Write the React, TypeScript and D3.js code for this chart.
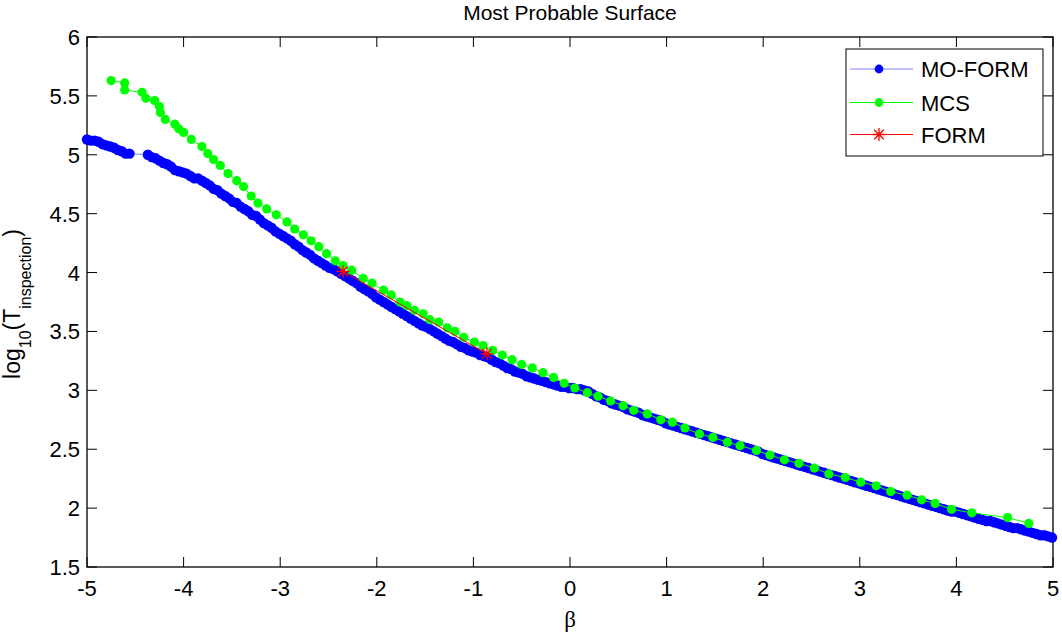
import * as d3 from "d3";
import { useRef, useEffect } from "react";

// MO-FORM points (beta, log10 T)
const moForm: [number, number][] = [
  [-5.0, 5.13], [-4.96, 5.12], [-4.92, 5.12], [-4.88, 5.11], [-4.84, 5.09], [-4.8, 5.08], [-4.76, 5.07],
  [-4.72, 5.06], [-4.68, 5.04], [-4.64, 5.03], [-4.6, 5.01], [-4.56, 5.01],
  [-4.37, 5.0], [-4.33, 4.98], [-4.29, 4.97], [-4.25, 4.95], [-4.21, 4.93], [-4.17, 4.92], [-4.13, 4.9],
  [-4.09, 4.87], [-4.05, 4.86], [-4.01, 4.85], [-3.97, 4.84], [-3.93, 4.82], [-3.89, 4.8], [-3.85, 4.8],
  [-3.81, 4.78], [-3.77, 4.76], [-3.73, 4.74], [-3.69, 4.71], [-3.65, 4.7], [-3.61, 4.67], [-3.57, 4.65],
  [-3.53, 4.63], [-3.49, 4.6], [-3.45, 4.59], [-3.41, 4.56], [-3.37, 4.54], [-3.33, 4.52], [-3.29, 4.49],
  [-3.25, 4.48], [-3.21, 4.45], [-3.17, 4.42], [-3.13, 4.4], [-3.09, 4.38], [-3.05, 4.35], [-3.01, 4.33],
  [-2.97, 4.31], [-2.93, 4.29], [-2.89, 4.27], [-2.85, 4.24], [-2.81, 4.22], [-2.77, 4.19], [-2.73, 4.17],
  [-2.69, 4.15], [-2.65, 4.12], [-2.61, 4.1], [-2.57, 4.08], [-2.53, 4.06], [-2.49, 4.04], [-2.45, 4.03],
  [-2.41, 4.01], [-2.37, 3.99], [-2.33, 3.97], [-2.29, 3.95], [-2.25, 3.93], [-2.21, 3.91], [-2.17, 3.88],
  [-2.13, 3.86], [-2.09, 3.84], [-2.05, 3.82], [-2.01, 3.79], [-1.97, 3.77], [-1.93, 3.75], [-1.89, 3.73],
  [-1.85, 3.71], [-1.81, 3.69], [-1.77, 3.67], [-1.73, 3.65], [-1.69, 3.63], [-1.65, 3.61], [-1.61, 3.59],
  [-1.57, 3.57], [-1.53, 3.55], [-1.49, 3.54], [-1.45, 3.52], [-1.41, 3.5], [-1.37, 3.48], [-1.33, 3.46],
  [-1.29, 3.44], [-1.25, 3.42], [-1.21, 3.41], [-1.17, 3.39], [-1.13, 3.37], [-1.09, 3.36], [-1.05, 3.34],
  [-1.01, 3.33], [-0.97, 3.32], [-0.93, 3.3], [-0.89, 3.29], [-0.85, 3.28], [-0.81, 3.26], [-0.77, 3.24],
  [-0.73, 3.23], [-0.69, 3.21], [-0.65, 3.19], [-0.61, 3.18], [-0.57, 3.16], [-0.53, 3.15], [-0.49, 3.14],
  [-0.45, 3.12], [-0.41, 3.11], [-0.37, 3.1], [-0.33, 3.09], [-0.29, 3.08], [-0.25, 3.07], [-0.21, 3.06],
  [-0.17, 3.05], [-0.13, 3.04], [-0.09, 3.03], [-0.05, 3.03], [-0.01, 3.02], [0.03, 3.02], [0.07, 3.01],
  [0.11, 3.01], [0.15, 3.0], [0.19, 2.99], [0.23, 2.97], [0.27, 2.95], [0.31, 2.94], [0.35, 2.92],
  [0.39, 2.91], [0.43, 2.89], [0.47, 2.88], [0.51, 2.87], [0.55, 2.86], [0.59, 2.84], [0.63, 2.83],
  [0.67, 2.82], [0.71, 2.81], [0.75, 2.79], [0.79, 2.78], [0.83, 2.77], [0.87, 2.76], [0.91, 2.75],
  [0.95, 2.74], [0.99, 2.72], [1.03, 2.71], [1.07, 2.7], [1.11, 2.69], [1.15, 2.68], [1.19, 2.67],
  [1.23, 2.66], [1.27, 2.65], [1.31, 2.64], [1.35, 2.63], [1.39, 2.62], [1.43, 2.61], [1.47, 2.6],
  [1.51, 2.59], [1.55, 2.58], [1.59, 2.57], [1.63, 2.56], [1.67, 2.55], [1.71, 2.54], [1.75, 2.53],
  [1.79, 2.52], [1.83, 2.51], [1.87, 2.5], [1.91, 2.49], [1.95, 2.48], [1.99, 2.46], [2.03, 2.45],
  [2.07, 2.44], [2.11, 2.43], [2.15, 2.42], [2.19, 2.41], [2.23, 2.4], [2.27, 2.39], [2.31, 2.38],
  [2.35, 2.37], [2.39, 2.36], [2.43, 2.35], [2.47, 2.34], [2.51, 2.33], [2.55, 2.32], [2.59, 2.31],
  [2.63, 2.3], [2.67, 2.29], [2.71, 2.28], [2.75, 2.27], [2.79, 2.26], [2.83, 2.25], [2.87, 2.24],
  [2.91, 2.23], [2.95, 2.22], [2.99, 2.21], [3.03, 2.2], [3.07, 2.19], [3.11, 2.18], [3.15, 2.17],
  [3.19, 2.16], [3.23, 2.15], [3.27, 2.14], [3.31, 2.13], [3.35, 2.12], [3.39, 2.11], [3.43, 2.1],
  [3.47, 2.09], [3.51, 2.08], [3.55, 2.07], [3.59, 2.06], [3.63, 2.05], [3.67, 2.04], [3.71, 2.03],
  [3.75, 2.02], [3.79, 2.01], [3.83, 2.0], [3.87, 1.99], [3.91, 1.98], [3.95, 1.97], [3.99, 1.97],
  [4.03, 1.96], [4.07, 1.95], [4.11, 1.94], [4.15, 1.93], [4.19, 1.92], [4.23, 1.91], [4.27, 1.9],
  [4.31, 1.89], [4.35, 1.89], [4.39, 1.88], [4.43, 1.87], [4.47, 1.86], [4.51, 1.85], [4.55, 1.84],
  [4.59, 1.83], [4.63, 1.83], [4.67, 1.82], [4.71, 1.81], [4.75, 1.8], [4.79, 1.79], [4.83, 1.78],
  [4.87, 1.77], [4.91, 1.77], [4.95, 1.76], [4.99, 1.75],
];

// MCS points
const mcs: [number, number][] = [
  [-4.75, 5.63], [-4.61, 5.61], [-4.61, 5.55], [-4.43, 5.53], [-4.39, 5.48], [-4.3, 5.46], [-4.25, 5.41],
  [-4.24, 5.36], [-4.19, 5.3], [-4.09, 5.26], [-4.05, 5.22], [-4.0, 5.19], [-3.92, 5.13], [-3.81, 5.07],
  [-3.75, 5.01], [-3.69, 4.96], [-3.62, 4.91], [-3.54, 4.84], [-3.45, 4.78], [-3.38, 4.73], [-3.3, 4.65],
  [-3.23, 4.59], [-3.14, 4.54], [-3.04, 4.49], [-2.93, 4.43], [-2.85, 4.37], [-2.76, 4.32], [-2.68, 4.27],
  [-2.6, 4.22], [-2.52, 4.16], [-2.43, 4.1], [-2.35, 4.06], [-2.26, 4.02], [-2.14, 3.95], [-2.05, 3.91],
  [-1.93, 3.85], [-1.85, 3.81], [-1.76, 3.75], [-1.69, 3.72], [-1.61, 3.68], [-1.52, 3.65], [-1.45, 3.6],
  [-1.36, 3.58], [-1.27, 3.53], [-1.19, 3.5], [-1.1, 3.45], [-0.99, 3.41], [-0.9, 3.38], [-0.8, 3.34],
  [-0.7, 3.3], [-0.6, 3.26], [-0.5, 3.22], [-0.39, 3.19], [-0.28, 3.15], [-0.17, 3.11], [-0.06, 3.06],
  [0.05, 3.02], [0.18, 2.98], [0.29, 2.95], [0.42, 2.91], [0.55, 2.87], [0.66, 2.83], [0.8, 2.8],
  [0.94, 2.75], [1.06, 2.73], [1.19, 2.68], [1.34, 2.63], [1.48, 2.6], [1.63, 2.56], [1.76, 2.53],
  [1.93, 2.49], [2.07, 2.45], [2.22, 2.41], [2.37, 2.38], [2.53, 2.34], [2.68, 2.29], [2.85, 2.26],
  [3.01, 2.22], [3.17, 2.19], [3.32, 2.14], [3.49, 2.11], [3.64, 2.07], [3.78, 2.04], [3.95, 1.99],
  [4.16, 1.96], [4.53, 1.92], [4.75, 1.87],
];

// FORM points
const form: [number, number][] = [[-2.35, 4.01], [-0.86, 3.31]];

const xTicks = [-5, -4, -3, -2, -1, 0, 1, 2, 3, 4, 5];
const yTicks = [1.5, 2, 2.5, 3, 3.5, 4, 4.5, 5, 5.5, 6];
const legendNames = ["MO-FORM", "MCS", "FORM"];

const FONT = "'Liberation Sans', Arial, sans-serif";

function App() {
  const svgRef = useRef<SVGSVGElement>(null);

  useEffect(() => {
    const WIDTH = 1062;
    const HEIGHT = 635;
    const left = 87, right = 1053, top = 37, bottom = 567;
    const TICK = 10;

    const svg = d3.select(svgRef.current)
      .attr("width", WIDTH)
      .attr("height", HEIGHT);
    svg.selectAll("*").remove();

    svg.append("rect").attr("width", WIDTH).attr("height", HEIGHT).attr("fill", "white");

    const x = d3.scaleLinear().domain([-5, 5]).range([left, right]);
    const y = d3.scaleLinear().domain([1.5, 6]).range([bottom, top]);

    // ticks (inward, all four sides)
    const ticks = svg.append("g").attr("stroke", "black").attr("stroke-width", 1);
    xTicks.forEach((t) => {
      ticks.append("line").attr("x1", x(t)).attr("x2", x(t)).attr("y1", bottom).attr("y2", bottom - TICK);
      ticks.append("line").attr("x1", x(t)).attr("x2", x(t)).attr("y1", top).attr("y2", top + TICK);
    });
    yTicks.forEach((t) => {
      ticks.append("line").attr("x1", left).attr("x2", left + TICK).attr("y1", y(t)).attr("y2", y(t));
      ticks.append("line").attr("x1", right).attr("x2", right - TICK).attr("y1", y(t)).attr("y2", y(t));
    });

    svg.append("rect")
      .attr("x", left).attr("y", top)
      .attr("width", right - left).attr("height", bottom - top)
      .attr("fill", "none").attr("stroke", "black").attr("stroke-width", 1.3);

    // tick labels
    svg.append("g").selectAll("text")
      .data(xTicks)
      .join("text")
      .attr("x", (d) => x(d))
      .attr("y", bottom + 29)
      .attr("text-anchor", "middle")
      .attr("font-family", FONT)
      .attr("font-size", 22)
      .text((d) => String(d));

    svg.append("g").selectAll("text")
      .data(yTicks)
      .join("text")
      .attr("x", left - 7)
      .attr("y", (d) => y(d) + 8)
      .attr("text-anchor", "end")
      .attr("font-family", FONT)
      .attr("font-size", 22)
      .text((d) => String(d));

    // title and axis labels
    svg.append("text")
      .attr("x", (left + right) / 2).attr("y", 20)
      .attr("text-anchor", "middle")
      .attr("font-family", FONT).attr("font-size", 21)
      .text("Most Probable Surface");

    svg.append("text")
      .attr("x", (left + right) / 2).attr("y", 627)
      .attr("text-anchor", "middle")
      .attr("font-family", "'Liberation Serif', 'Times New Roman', serif").attr("font-size", 23)
      .text("β");

    const yl = svg.append("text")
      .attr("transform", `translate(20, ${(top + bottom) / 2 + 2}) rotate(-90)`)
      .attr("text-anchor", "middle")
      .attr("font-family", FONT).attr("font-size", 23);
    yl.append("tspan").text("log");
    yl.append("tspan").attr("font-size", 16).attr("dy", 11).text("10");
    yl.append("tspan").attr("dy", -11).text("(T");
    yl.append("tspan").attr("font-size", 16).attr("dy", 11).text("inspection");
    yl.append("tspan").attr("dy", -11).text(")");

    const line = d3.line<[number, number]>().x((d) => x(d[0])).y((d) => y(d[1]));

    // MO-FORM
    svg.append("path").datum(moForm).attr("d", line)
      .attr("fill", "none").attr("stroke", "#8080ff").attr("stroke-width", 1);
    svg.append("g").selectAll("circle")
      .data(moForm)
      .join("circle")
      .attr("cx", (d) => x(d[0])).attr("cy", (d) => y(d[1]))
      .attr("r", 5.2).attr("fill", "#0000ff");

    // MCS
    svg.append("path").datum(mcs).attr("d", line)
      .attr("fill", "none").attr("stroke", "#00ff00").attr("stroke-width", 1);
    svg.append("g").selectAll("circle")
      .data(mcs)
      .join("circle")
      .attr("cx", (d) => x(d[0])).attr("cy", (d) => y(d[1]))
      .attr("r", 4.6).attr("fill", "#00ff00");

    // FORM
    const star = (g, cx: number, cy: number) => {
      const s = 6.5, dg = 4.8;
      g.append("path")
        .attr("d", `M${cx - s},${cy}L${cx + s},${cy}M${cx},${cy - s}L${cx},${cy + s}` +
          `M${cx - dg},${cy - dg}L${cx + dg},${cy + dg}M${cx - dg},${cy + dg}L${cx + dg},${cy - dg}`)
        .attr("stroke", "#ff0000").attr("stroke-width", 1.3).attr("fill", "none");
    };
    svg.append("path").datum(form).attr("d", line)
      .attr("fill", "none").attr("stroke", "#ff0000").attr("stroke-width", 1);
    const formG = svg.append("g");
    form.forEach((d) => star(formG, x(d[0]), y(d[1])));

    // legend
    const lg = svg.append("g");
    lg.append("rect")
      .attr("x", 846).attr("y", 49).attr("width", 197).attr("height", 107)
      .attr("fill", "white").attr("stroke", "black").attr("stroke-width", 1);
    const rows = [69, 102.5, 134.5];
    const colors = ["#8080ff", "#00ff00", "#ff0000"];
    legendNames.forEach((name, i) => {
      lg.append("line")
        .attr("x1", 850).attr("x2", 913).attr("y1", rows[i]).attr("y2", rows[i])
        .attr("stroke", colors[i]).attr("stroke-width", 1);
      if (i === 0) {
        lg.append("circle").attr("cx", 879).attr("cy", rows[i]).attr("r", 4.4).attr("fill", "#0000ff");
      } else if (i === 1) {
        lg.append("circle").attr("cx", 879).attr("cy", rows[i]).attr("r", 4.4).attr("fill", "#00ff00");
      } else {
        star(lg, 879, rows[i]);
      }
      lg.append("text")
        .attr("x", 921).attr("y", rows[i] + 8)
        .attr("font-family", FONT).attr("font-size", 22)
        .text(name);
    });
  }, []);

  return (
    <div>
      <svg ref={svgRef} style={{ position: "absolute", left: 0, top: 0 }} />
    </div>
  );
}

export default App;
